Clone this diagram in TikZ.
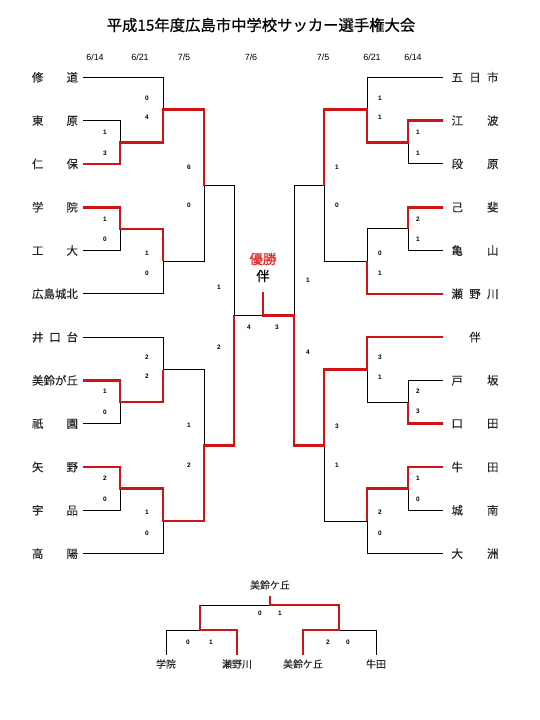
\documentclass[tikz,border=0pt]{standalone}
\usepackage{fontspec}
\setmainfont{Liberation Sans}
\newfontfamily\jp{Noto Sans CJK JP}
\newfontfamily\jpb[FakeBold=0.7]{Noto Sans CJK JP}
\newfontfamily\jpm[FakeBold=0.2]{Noto Sans CJK JP}
\definecolor{winred}{RGB}{206,20,20}
\definecolor{champred}{RGB}{222,40,40}
\def\ya{77.3}\def\yb{120.6}\def\yc{163.9}\def\yd{207.2}\def\ye{250.5}\def\yf{293.8}
\def\yg{337.1}\def\yh{380.4}\def\yi{423.7}\def\yj{467.0}\def\yk{510.3}\def\yl{553.6}
\def\mbc{142.25}\def\mabc{109.78}\def\mde{228.85}\def\mdef{261.33}
\def\mhi{402.05}\def\mghi{369.58}\def\mjk{488.65}\def\mjkl{521.13}
\def\jt{185.55}\def\jb{445.35}\def\js{315.45}
\begin{document}
\begin{tikzpicture}[x=1bp,y=-1bp,
  loss/.style={line width=0.9bp,black},
  win/.style={line width=2.6bp,winred},
  score/.style={font=\bfseries\fontsize{6.5}{7}\selectfont,inner sep=0},
  datelbl/.style={font=\fontsize{9}{10}\selectfont,inner sep=0},
  lname/.style={font=\jpm\fontsize{11.5}{12}\selectfont,inner sep=0,text=black!85},
  cname/.style={font=\jpm\fontsize{10}{11}\selectfont,inner sep=0,text=black!85},
  champ/.style={font=\jpb\fontsize{13.5}{14}\selectfont,inner sep=0}]
\useasboundingbox (0,0) rectangle (540,720);
% title and dates
\node[font=\jpb\fontsize{15.4}{16}\selectfont,inner sep=0] (title) at (261,25) {平成15年度広島市中学校サッカー選手権大会};
\foreach \x/\t [count=\i] in {95/6\slash 14,140/6\slash 21,184/7\slash 5,251/7\slash 6,323/7\slash 5,372/6\slash 21,413/6\slash 14}
  \node[datelbl] (d\i) at (\x,57) {\t};
% left names
\foreach \y/\t [count=\i] in {\ya/{修\hfill 道},\yb/{東\hfill 原},\yc/{仁\hfill 保},\yd/{学\hfill 院},\ye/{工\hfill 大},\yf/{広島城北},\yg/{井\hfill 口\hfill 台},\yh/{美鈴が丘},\yi/{祇\hfill 園},\yj/{矢\hfill 野},\yk/{宇\hfill 品},\yl/{高\hfill 陽}}
  \node[lname] (L\i) at (55,\y) {\makebox[46bp]{\t}};
% right names
\foreach \y/\t [count=\i] in {\ya/{五\hfill 日\hfill 市},\yb/{江\hfill 波},\yc/{段\hfill 原},\yd/{己\hfill 斐},\ye/{亀\hfill 山},\yf/{瀬\hfill 野\hfill 川},\yg/{\hfill 伴\hfill},\yh/{戸\hfill 坂},\yi/{口\hfill 田},\yj/{牛\hfill 田},\yk/{城\hfill 南},\yl/{大\hfill 洲}}
  \node[lname] (R\i) at (475,\y) {\makebox[47bp]{\t}};
% black lines left
\draw[loss] (83,\ya) -| (163,\mabc);
\draw[loss] (83,\yb) -| (120,\mbc);
\draw[loss] (163,\mdef) -- (204,\mdef) -- (204,\jt) -- (234,\jt) -- (234,\js);
\draw[loss] (83,\ye) -| (120,\mde);
\draw[loss] (83,\yf) -| (163,\mdef);
\draw[loss] (83,\yg) -| (163,\mghi) -- (204,\mghi) -- (204,\jb);
\draw[loss] (83,\yi) -| (120,\mhi);
\draw[loss] (83,\yk) -| (120,\mjk);
\draw[loss] (83,\yl) -| (163,\mjkl);
\draw[loss] (234,\js) -- (263,\js);
% black lines right
\draw[loss] (443,\ya) -| (367,\mabc);
\draw[loss] (443,\yc) -| (408,\mbc);
\draw[loss] (324,\jt) -- (294,\jt) -- (294,\js);
\draw[loss] (324,\jt) |- (367,\mdef);
\draw[loss] (443,\ye) -| (408,\mde) -| (367,\mdef);
\draw[loss] (443,\yh) -| (408,\mhi) -| (367,\mghi);
\draw[loss] (443,\yk) -| (408,\mjk);
\draw[loss] (443,\yl) -| (367,\mjkl) -| (324,\jb);
% red lines left
\draw[win] (83,\yc) -| (120,\mbc) -| (163,\mabc) -| (204,\jt);
\draw[win] (83,\yd) -| (120,\mde) -| (163,\mdef);
\draw[win] (83,\yh) -| (120,\mhi) -| (163,\mghi);
\draw[win] (83,\yj) -| (120,\mjk) -| (163,\mjkl) -| (204,\jb) -| (234,\js);
% red lines right
\draw[win] (443,\yb) -| (408,\mbc) -| (367,\mabc) -| (324,\jt);
\draw[win] (443,\yd) -| (408,\mde);
\draw[win] (443,\yf) -| (367,\mdef);
\draw[win] (443,\yi) -| (408,\mhi);
\draw[win] (443,\yg) -| (367,\mghi) -| (324,\jb) -| (294,\js) -- (263,\js) -- (263,292);
\draw[win] (443,\yj) -| (408,\mjk) -| (367,\mjkl);
% champion
\node[champ,text=champred] (champlbl) at (263,259) {優勝};
\node[champ] (champ) at (263,276) {伴};
% scores
\foreach \x/\y/\t [count=\i] in {
  147/98/0,147/117/4,147/253/1,147/273/0,147/357/2,147/376/2,147/512/1,147/533/0,
  105/132/1,105/153/3,105/219/1,105/239/0,105/391/1,105/412/0,105/478/2,105/499/0,
  189/167/6,189/205/0,189/425/1,189/465/2,219/287/1,219/347/2,249/327/4,277/327/3,
  418/132/1,418/153/1,418/219/2,418/239/1,418/391/2,418/411/3,418/478/1,418/499/0,
  380/98/1,380/117/1,380/253/0,380/273/1,380/357/3,380/377/1,380/512/2,380/533/0,
  337/167/1,337/205/0,337/426/3,337/465/1,308/280/1,308/352/4,
  260/613/0,280/613/1,188/642/0,211/642/1,328/642/2,348/642/0}
  \node[score] (s\i) at (\x,\y) {\t};
% consolation bracket
\node[cname] (ctop) at (270,585) {美鈴ケ丘};
\node[cname] (c1) at (166,664) {学院};
\node[cname] (c2) at (237,664) {瀬野川};
\node[cname] (c3) at (303,664) {美鈴ケ丘};
\node[cname] (c4) at (376,664) {牛田};
\draw[loss] (270,605) -- (200,605);
\draw[loss] (166,655) |- (200,630);
\draw[loss] (339,630) -| (376,655);
\draw[win] (270,596) -- (270,605) -| (339,630) -| (303,655);
\draw[win] (200,605) -- (200,630) -| (237,655);
\end{tikzpicture}
\end{document}
